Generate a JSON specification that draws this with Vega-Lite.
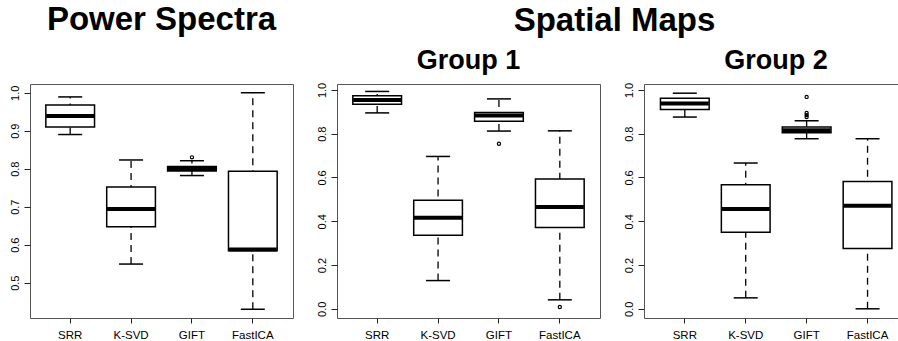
{
  "$schema": "https://vega.github.io/schema/vega-lite/v6.json",
  "padding": {"left": 3, "top": 3, "right": 0, "bottom": 0},
  "autosize": {"type": "pad"},
  "spacing": 16,
  "config": {
    "view": {"stroke": "#555", "strokeWidth": 1},
    "font": "Liberation Sans",
    "title": {"font": "Liberation Sans", "fontWeight": "bold", "color": "#000", "baseline": "alphabetic", "anchor": "middle"},
    "axis": {"domain": false, "grid": false, "tickColor": "#222", "labelColor": "#000", "labelFont": "Liberation Sans", "labelFontSize": 11, "title": null},
    "axisX": {"labelAngle": 0, "tickSize": 5, "labelPadding": 6, "labelFontSize": 11.5},
    "tick": {"opacity": 1},
    "rule": {"opacity": 1}
  },
  "datasets": {
    "stats": [
      {"panel": "P", "method": "SRR", "lower": 0.890, "q1": 0.910, "median": 0.939, "q3": 0.968, "upper": 0.989},
      {"panel": "P", "method": "K-SVD", "lower": 0.549, "q1": 0.647, "median": 0.694, "q3": 0.752, "upper": 0.823},
      {"panel": "P", "method": "GIFT", "lower": 0.782, "q1": 0.794, "median": 0.799, "q3": 0.806, "upper": 0.821},
      {"panel": "P", "method": "FastICA", "lower": 0.430, "q1": 0.584, "median": 0.587, "q3": 0.793, "upper": 1.0},
      {"panel": "G1", "method": "SRR", "lower": 0.895, "q1": 0.935, "median": 0.954, "q3": 0.973, "upper": 0.993},
      {"panel": "G1", "method": "K-SVD", "lower": 0.129, "q1": 0.336, "median": 0.416, "q3": 0.496, "upper": 0.696},
      {"panel": "G1", "method": "GIFT", "lower": 0.812, "q1": 0.857, "median": 0.883, "q3": 0.897, "upper": 0.959},
      {"panel": "G1", "method": "FastICA", "lower": 0.041, "q1": 0.371, "median": 0.465, "q3": 0.593, "upper": 0.813},
      {"panel": "G2", "method": "SRR", "lower": 0.876, "q1": 0.911, "median": 0.938, "q3": 0.962, "upper": 0.985},
      {"panel": "G2", "method": "K-SVD", "lower": 0.050, "q1": 0.350, "median": 0.456, "q3": 0.567, "upper": 0.666},
      {"panel": "G2", "method": "GIFT", "lower": 0.777, "q1": 0.804, "median": 0.816, "q3": 0.831, "upper": 0.859},
      {"panel": "G2", "method": "FastICA", "lower": 0.0, "q1": 0.275, "median": 0.471, "q3": 0.582, "upper": 0.777}
    ],
    "outliers": [
      {"panel": "P", "method": "GIFT", "value": 0.830},
      {"panel": "G1", "method": "GIFT", "value": 0.754},
      {"panel": "G1", "method": "FastICA", "value": 0.008},
      {"panel": "G2", "method": "GIFT", "value": 0.968},
      {"panel": "G2", "method": "GIFT", "value": 0.895},
      {"panel": "G2", "method": "GIFT", "value": 0.885},
      {"panel": "G2", "method": "GIFT", "value": 0.876}
    ]
  },
  "hconcat": [
    {
      "title": {"text": "Power Spectra", "fontSize": 33, "offset": 12, "dx": 13},
      "hconcat": [
        {
          "width": 263, "height": 234,
          "title": {"text": " ", "fontSize": 27, "offset": 7, "frame": "group"},
          "data": {"name": "stats"},
          "transform": [{"filter": "datum.panel === 'P'"}],
          "encoding": {
            "x": {"field": "method", "type": "nominal", "sort": ["SRR", "K-SVD", "GIFT", "FastICA"],
                  "scale": {"type": "band", "paddingInner": 0, "paddingOuter": 0.16}},
            "y": {"type": "quantitative", "scale": {"domain": [0.407, 1.023], "nice": false, "zero": false},
                  "axis": {"values": [0.5, 0.6, 0.7, 0.8, 0.9, 1.0], "format": ".1f", "labelAngle": -90, "labelAlign": "center", "labelBaseline": "bottom", "tickSize": 6, "labelPadding": 4, "minExtent": 26, "maxExtent": 26}}
          },
          "layer": [
            {"mark": {"type": "rule", "color": "black", "strokeWidth": 1.3, "strokeDash": [7, 5]},
             "encoding": {"y": {"field": "lower"}, "y2": {"field": "upper"}}},
            {"mark": {"type": "tick", "color": "black", "size": 24, "thickness": 1.5},
             "encoding": {"y": {"field": "upper"}}},
            {"mark": {"type": "tick", "color": "black", "size": 24, "thickness": 1.5},
             "encoding": {"y": {"field": "lower"}}},
            {"mark": {"type": "bar", "fill": "white", "stroke": "black", "strokeWidth": 1.5, "width": {"band": 0.8}},
             "encoding": {"y": {"field": "q1"}, "y2": {"field": "q3"}}},
            {"mark": {"type": "tick", "color": "black", "size": 48, "thickness": 4},
             "encoding": {"y": {"field": "median"}}},
            {"data": {"name": "outliers"},
             "transform": [{"filter": "datum.panel === 'P'"}],
             "mark": {"type": "point", "shape": "circle", "filled": false, "size": 10, "stroke": "black", "strokeWidth": 1.2, "opacity": 1},
             "encoding": {"y": {"field": "value"}}}
          ]
        }
      ]
    },
    {
      "title": {"text": "Spatial Maps", "fontSize": 33, "offset": 9, "dx": 10},
      "spacing": 16,
      "hconcat": [
        {
          "width": 263, "height": 234,
          "title": {"text": "Group 1", "fontSize": 27, "offset": 7, "frame": "group"},
          "data": {"name": "stats"},
          "transform": [{"filter": "datum.panel === 'G1'"}],
          "encoding": {
            "x": {"field": "method", "type": "nominal", "sort": ["SRR", "K-SVD", "GIFT", "FastICA"],
                  "scale": {"type": "band", "paddingInner": 0, "paddingOuter": 0.16}},
            "y": {"type": "quantitative", "scale": {"domain": [-0.042, 1.027], "nice": false, "zero": false},
                  "axis": {"values": [0, 0.2, 0.4, 0.6, 0.8, 1.0], "format": ".1f", "labelAngle": -90, "labelAlign": "center", "labelBaseline": "bottom", "tickSize": 6, "labelPadding": 4, "minExtent": 26, "maxExtent": 26}}
          },
          "layer": [
            {"mark": {"type": "rule", "color": "black", "strokeWidth": 1.3, "strokeDash": [7, 5]},
             "encoding": {"y": {"field": "lower"}, "y2": {"field": "upper"}}},
            {"mark": {"type": "tick", "color": "black", "size": 24, "thickness": 1.5},
             "encoding": {"y": {"field": "upper"}}},
            {"mark": {"type": "tick", "color": "black", "size": 24, "thickness": 1.5},
             "encoding": {"y": {"field": "lower"}}},
            {"mark": {"type": "bar", "fill": "white", "stroke": "black", "strokeWidth": 1.5, "width": {"band": 0.8}},
             "encoding": {"y": {"field": "q1"}, "y2": {"field": "q3"}}},
            {"mark": {"type": "tick", "color": "black", "size": 48, "thickness": 4},
             "encoding": {"y": {"field": "median"}}},
            {"data": {"name": "outliers"},
             "transform": [{"filter": "datum.panel === 'G1'"}],
             "mark": {"type": "point", "shape": "circle", "filled": false, "size": 10, "stroke": "black", "strokeWidth": 1.2, "opacity": 1},
             "encoding": {"y": {"field": "value"}}}
          ]
        },
        {
          "width": 254, "height": 234,
          "title": {"text": "Group 2", "fontSize": 27, "offset": 7, "frame": "group", "dx": 5},
          "data": {"name": "stats"},
          "transform": [{"filter": "datum.panel === 'G2'"}],
          "encoding": {
            "x": {"field": "method", "type": "nominal", "sort": ["SRR", "K-SVD", "GIFT", "FastICA"],
                  "scale": {"type": "band", "paddingInner": 0, "paddingOuter": 0.085, "align": 1}},
            "y": {"type": "quantitative", "scale": {"domain": [-0.042, 1.027], "nice": false, "zero": false},
                  "axis": {"values": [0, 0.2, 0.4, 0.6, 0.8, 1.0], "format": ".1f", "labelAngle": -90, "labelAlign": "center", "labelBaseline": "bottom", "tickSize": 6, "labelPadding": 4, "minExtent": 26, "maxExtent": 26}}
          },
          "layer": [
            {"mark": {"type": "rule", "color": "black", "strokeWidth": 1.3, "strokeDash": [7, 5]},
             "encoding": {"y": {"field": "lower"}, "y2": {"field": "upper"}}},
            {"mark": {"type": "tick", "color": "black", "size": 24, "thickness": 1.5},
             "encoding": {"y": {"field": "upper"}}},
            {"mark": {"type": "tick", "color": "black", "size": 24, "thickness": 1.5},
             "encoding": {"y": {"field": "lower"}}},
            {"mark": {"type": "bar", "fill": "white", "stroke": "black", "strokeWidth": 1.5, "width": {"band": 0.8}},
             "encoding": {"y": {"field": "q1"}, "y2": {"field": "q3"}}},
            {"mark": {"type": "tick", "color": "black", "size": 48, "thickness": 4},
             "encoding": {"y": {"field": "median"}}},
            {"data": {"name": "outliers"},
             "transform": [{"filter": "datum.panel === 'G2'"}],
             "mark": {"type": "point", "shape": "circle", "filled": false, "size": 10, "stroke": "black", "strokeWidth": 1.2, "opacity": 1},
             "encoding": {"y": {"field": "value"}}}
          ]
        }
      ]
    }
  ]
}
